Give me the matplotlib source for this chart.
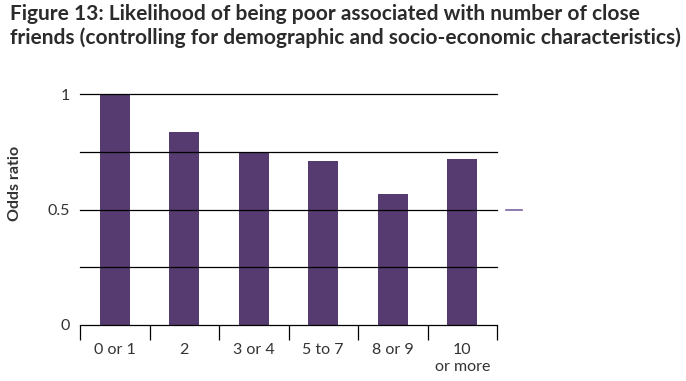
import matplotlib
matplotlib.use("Agg")
import matplotlib.pyplot as plt
from matplotlib.lines import Line2D

# data
categories = ["0 or 1", "2", "3 or 4", "5 to 7", "8 or 9", "10\nor more"]
odds_ratio = [1.0, 0.835, 0.749, 0.71, 0.567, 0.719]

BAR = "#553b6f"
TXT = "#333333"

plt.rcParams['font.family'] = ['Lato', 'DejaVu Sans']

fig = plt.figure(figsize=(6.86, 3.81), dpi=100)
ax = fig.add_axes([80/686, 1 - 325/381, 417/686, 231/381])

x = list(range(len(categories)))
ax.bar(x, odds_ratio, width=0.43, color=BAR, zorder=1)

# grid lines
for y in [0.25, 0.5, 0.75, 1.0]:
    ax.axhline(y, color="black", lw=0.9, zorder=2, clip_on=False)

ax.set_xlim(-0.5, len(categories) - 0.5)
ax.set_ylim(0, 1)

for s in ["left", "right", "top"]:
    ax.spines[s].set_visible(False)
ax.spines["bottom"].set_linewidth(0.9)

# boundary ticks below the axis, labels at the centres
ax.set_xticks([i - 0.5 for i in range(len(categories) + 1)])
ax.set_xticklabels([])
ax.tick_params(axis="x", which="major", length=11, width=0.9, direction="out")
ax.set_xticks(x, minor=True)
ax.set_xticklabels(categories, minor=True, fontsize=11.5, color=TXT,
                   linespacing=1.3, va="top")
ax.tick_params(axis="x", which="minor", length=0, pad=13)

ax.set_yticks([0, 0.5, 1])
ax.set_yticklabels(["0", "0.5", "1"], fontsize=11.5, color=TXT)
ax.tick_params(axis="y", length=0, pad=7)

fig.text(15/686, 1 - 183/381, "Odds ratio", rotation=90, fontsize=11.5,
         fontweight="bold", color=TXT, ha="center", va="center")

fig.text(10/686, 1 - 4/381,
         "Figure 13: Likelihood of being poor associated with number of close\n"
         "friends (controlling for demographic and socio-economic characteristics)",
         fontsize=15, fontweight="bold", color="#2b2b2b", ha="left", va="top",
         linespacing=1.2)

# stray legend swatch at the right
fig.add_artist(Line2D([506/686, 522/686], [1 - 210/381, 1 - 210/381],
                      color="#7b62a0", lw=1.2))

fig.savefig("out.png", dpi=100)
